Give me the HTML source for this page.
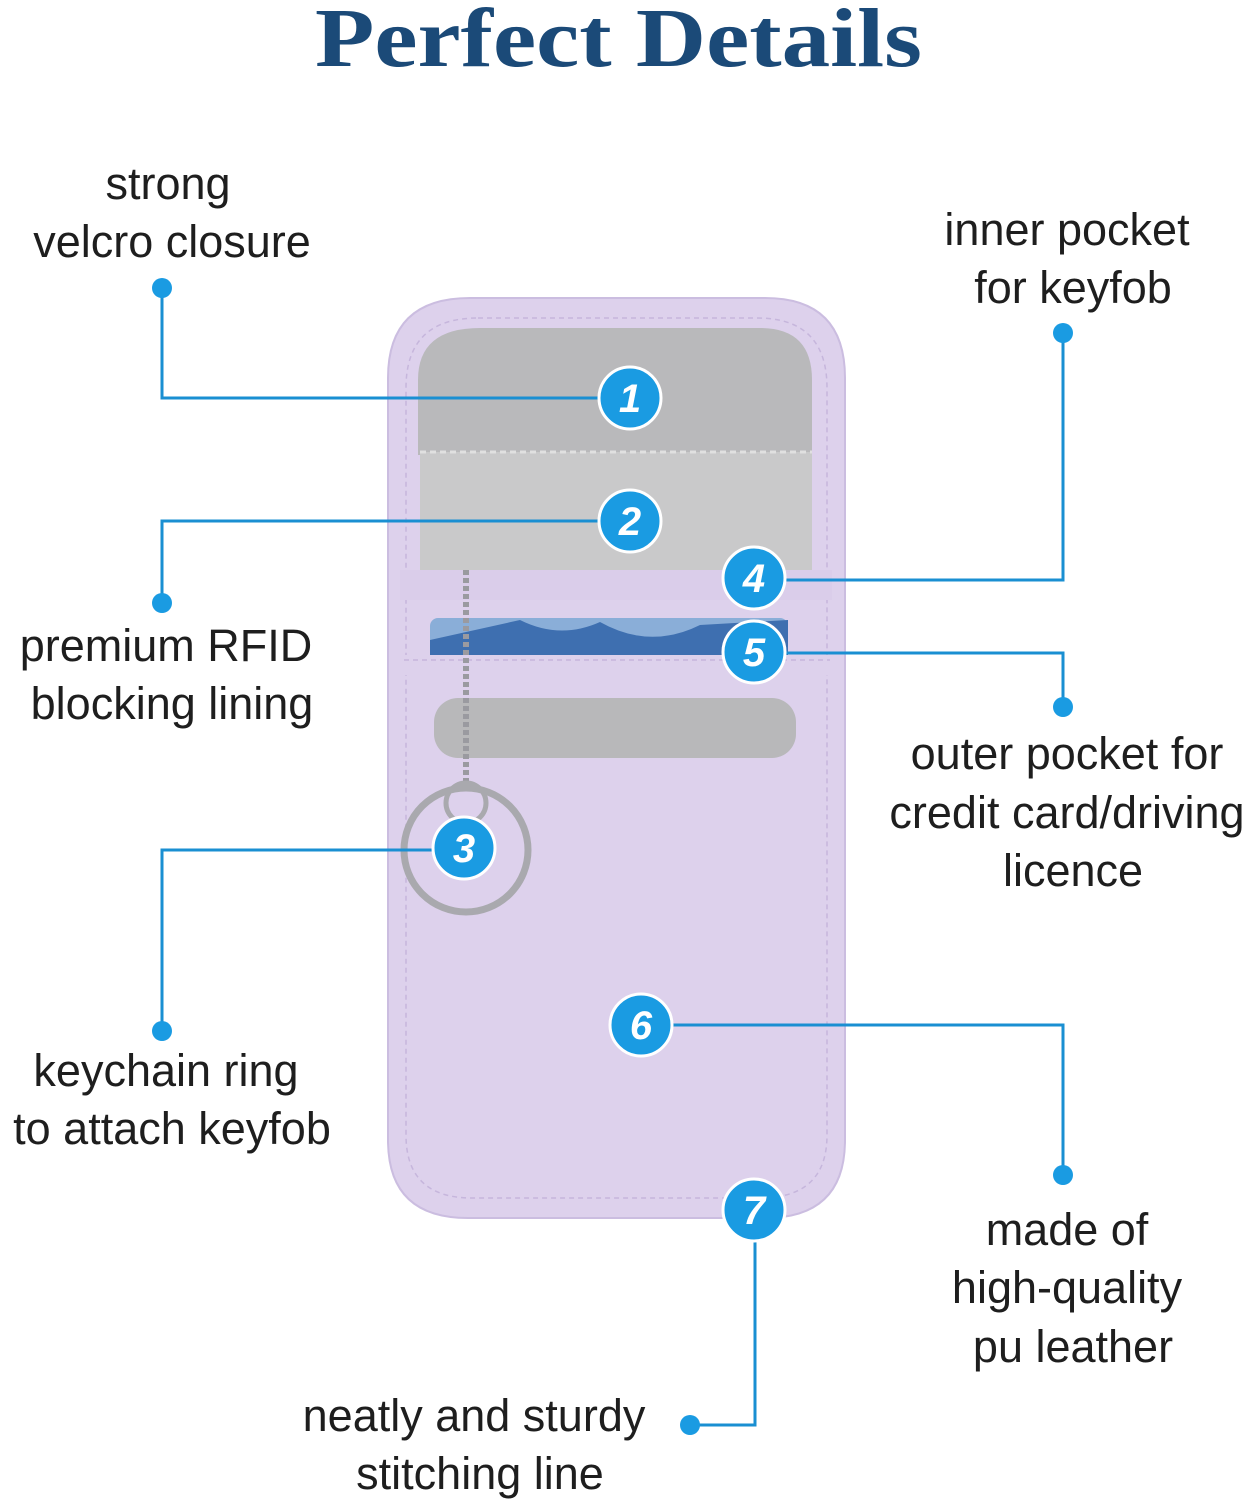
<!DOCTYPE html>
<html><head><meta charset="utf-8"><style>
html,body{margin:0;padding:0;background:#fff;}
svg{display:block;}
text{font-family:"Liberation Sans",sans-serif;}
</style></head><body>
<svg width="1258" height="1500" viewBox="0 0 1258 1500" xmlns="http://www.w3.org/2000/svg">
<rect width="1258" height="1500" fill="#fff"/>
<text x="315" y="66" textLength="607" lengthAdjust="spacingAndGlyphs" font-weight="bold" font-size="84" fill="#1b4a78" style="font-family:'Liberation Serif',serif">Perfect Details</text>

<!-- pouch -->
<path d="M470,298 H765 Q845,298 845,378 V1140 Q845,1218 765,1218 H468 Q388,1218 388,1140 V378 Q388,298 470,298 Z" fill="#ddd1ec" stroke="#cbbde0" stroke-width="2"/>
<path d="M478,318 H757 Q827,318 827,388 V1135 Q827,1198 760,1198 H472 Q406,1198 406,1135 V388 Q406,318 478,318 Z" fill="none" stroke="#c6b6dc" stroke-width="1.5" stroke-dasharray="5,4"/>
<path d="M480,328 H760 Q812,328 812,380 V455 H418 V380 Q418,328 480,328 Z" fill="#b9b9bb"/>
<rect x="420" y="452" width="392" height="122" fill="#c9c9ca"/>
<path d="M420,452 L812,452" stroke="#e0e0e0" stroke-width="3" stroke-dasharray="6,4"/>
<path d="M400,570 H832 V600 H400 Z" fill="#dacdea"/>
<rect x="430" y="618" width="358" height="40" rx="8" fill="#8aaed8"/>
<path d="M520,620 Q560,640 600,622 Q650,650 700,625 L788,620 V656 H430 V640 Z" fill="#3e6fb0"/>
<rect x="398" y="655" width="436" height="20" fill="#ddd1ec"/>
<line x1="404" y1="660" x2="830" y2="660" stroke="#c6b6dc" stroke-width="1.5" stroke-dasharray="5,4"/>
<rect x="434" y="698" width="362" height="60" rx="24" fill="#b8b8ba"/>
<path d="M466,570 L466,790" stroke="#9a9aa0" stroke-width="6" stroke-dasharray="5,3"/>
<circle cx="466" cy="850" r="62" fill="none" stroke="#a9a9ae" stroke-width="7"/>
<circle cx="466" cy="803" r="20" fill="none" stroke="#a9a9ae" stroke-width="5"/>

<g stroke="#1a8fd2" stroke-width="3" fill="none">
<polyline points="162,288 162,398 630,398"/>
<polyline points="162,603 162,521 630,521"/>
<polyline points="162,1031 162,850 464,850"/>
<polyline points="1063,333 1063,580 754,580"/>
<polyline points="1063,707 1063,653 754,653"/>
<polyline points="1063,1175 1063,1025 641,1025"/>
<polyline points="690,1425 755,1425 755,1210"/>
</g>
<g fill="#1a9be2">
<circle cx="162" cy="288" r="10"/><circle cx="162" cy="603" r="10"/><circle cx="162" cy="1031" r="10"/>
<circle cx="1063" cy="333" r="10"/><circle cx="1063" cy="707" r="10"/><circle cx="1063" cy="1175" r="10"/>
<circle cx="690" cy="1425" r="10"/>
</g>
<g fill="#1a9be2" stroke="#fff" stroke-width="3">
<circle cx="630" cy="398" r="31"/><circle cx="630" cy="521" r="31"/><circle cx="464" cy="848" r="31"/>
<circle cx="754" cy="578" r="31"/><circle cx="754" cy="652" r="31"/><circle cx="641" cy="1025" r="31"/>
<circle cx="754" cy="1210" r="31"/>
</g>
<g fill="#fff" font-size="40" font-weight="bold" font-style="italic" text-anchor="middle">
<text x="630" y="412">1</text><text x="630" y="535">2</text><text x="464" y="862">3</text>
<text x="754" y="592">4</text><text x="754" y="666">5</text><text x="641" y="1039">6</text>
<text x="754" y="1224">7</text>
</g>

<g fill="#1e1e1e" font-size="45" text-anchor="middle">
<text x="168" y="199">strong</text>
<text x="172" y="257">velcro closure</text>
<text x="166" y="661">premium RFID</text>
<text x="172" y="719">blocking lining</text>
<text x="166" y="1086">keychain ring</text>
<text x="172" y="1144">to attach keyfob</text>
<text x="1067" y="245">inner pocket</text>
<text x="1073" y="303">for keyfob</text>
<text x="1067" y="769">outer pocket for</text>
<text x="1067" y="828">credit card/driving</text>
<text x="1073" y="886">licence</text>
<text x="1067" y="1245">made of</text>
<text x="1067" y="1303">high-quality</text>
<text x="1073" y="1362">pu leather</text>
<text x="474" y="1431">neatly and sturdy</text>
<text x="480" y="1489">stitching line</text>
</g>
</svg>
</body></html>
